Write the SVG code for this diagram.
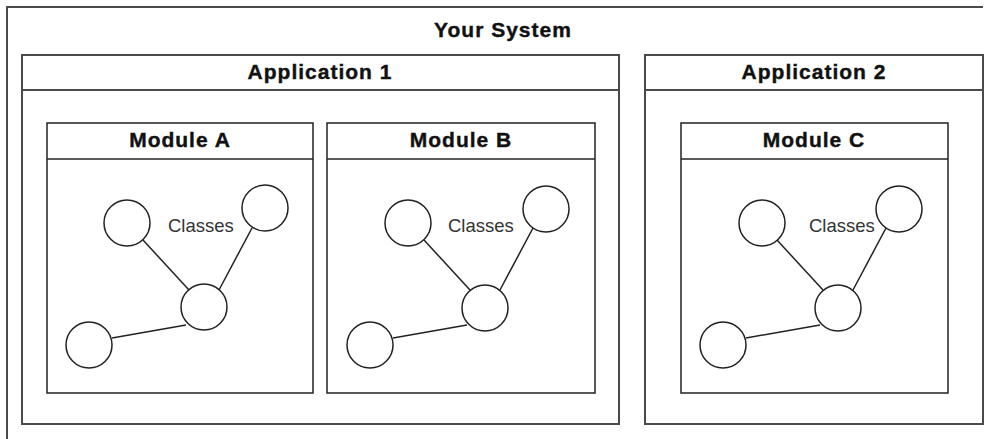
<svg xmlns="http://www.w3.org/2000/svg" width="992" height="439" viewBox="0 0 992 439">
<style>
.frame{fill:none;stroke:#4a4a4a;stroke-width:2}
.mod{fill:none;stroke:#222;stroke-width:1.5}
.cls{fill:#fff;stroke:#222;stroke-width:1.5}
.edge{stroke:#222;stroke-width:1.5;fill:none}
.title{font-family:"Liberation Sans",Arial,sans-serif;font-weight:bold;font-size:21px;letter-spacing:1px;fill:#111;stroke:#111;stroke-width:0.4;text-anchor:middle}
.lbl{font-family:"Liberation Sans",Arial,sans-serif;font-size:18.5px;fill:#333}
</style>
<rect width="992" height="439" fill="#fff"/>
<g id="your-system">
<path class="frame" d="M983 7H7V439"/>
<text class="title" x="503" y="37">Your System</text>
</g>
<g id="application-1">
<rect class="frame" x="22" y="55" width="597" height="369"/>
<line class="frame" x1="22" y1="90" x2="619" y2="90"/>
<text class="title" x="320" y="79">Application 1</text>
</g>
<g id="application-2">
<rect class="frame" x="645" y="55" width="338" height="369"/>
<line class="frame" x1="645" y1="90" x2="983" y2="90"/>
<text class="title" x="814" y="79">Application 2</text>
</g>
<g id="module-a">
<rect class="mod" x="47" y="123" width="266" height="270"/>
<line class="mod" x1="47" y1="159" x2="313" y2="159"/>
<text class="title" x="180" y="147">Module A</text>
</g>
<g id="module-b">
<rect class="mod" x="327" y="123" width="268" height="270"/>
<line class="mod" x1="327" y1="159" x2="595" y2="159"/>
<text class="title" x="461" y="147">Module B</text>
</g>
<g id="module-c">
<rect class="mod" x="681" y="123" width="267" height="270"/>
<line class="mod" x1="681" y1="159" x2="948" y2="159"/>
<text class="title" x="814" y="147">Module C</text>
</g>
<g id="connectors">
<g>
<line class="edge" x1="143" y1="240" x2="189" y2="290"/>
<line class="edge" x1="252" y1="228" x2="219" y2="290"/>
<line class="edge" x1="112" y1="338" x2="186" y2="325"/>
</g>
<g transform="translate(281,0)">
<line class="edge" x1="143" y1="240" x2="189" y2="290"/>
<line class="edge" x1="252" y1="228" x2="219" y2="290"/>
<line class="edge" x1="112" y1="338" x2="186" y2="325"/>
</g>
<g transform="translate(634,0)">
<line class="edge" x1="143" y1="240" x2="189" y2="290"/>
<line class="edge" x1="252" y1="228" x2="219" y2="290"/>
<line class="edge" x1="112" y1="338" x2="186" y2="325"/>
</g>
</g>
<g id="classes-a">
<circle class="cls" cx="127" cy="223" r="23"/>
<circle class="cls" cx="265" cy="208" r="23"/>
<circle class="cls" cx="204" cy="307" r="23"/>
<circle class="cls" cx="89" cy="345" r="23"/>
<text class="lbl" x="168" y="232">Classes</text>
</g>
<g id="classes-b">
<circle class="cls" cx="408" cy="223" r="23"/>
<circle class="cls" cx="546" cy="209" r="23"/>
<circle class="cls" cx="485" cy="308" r="23"/>
<circle class="cls" cx="370" cy="345" r="23"/>
<text class="lbl" x="448" y="232">Classes</text>
</g>
<g id="classes-c">
<circle class="cls" cx="762" cy="223" r="23"/>
<circle class="cls" cx="899" cy="209" r="23"/>
<circle class="cls" cx="838" cy="308" r="23"/>
<circle class="cls" cx="723" cy="345" r="23"/>
<text class="lbl" x="809" y="232">Classes</text>
</g>
</svg>
